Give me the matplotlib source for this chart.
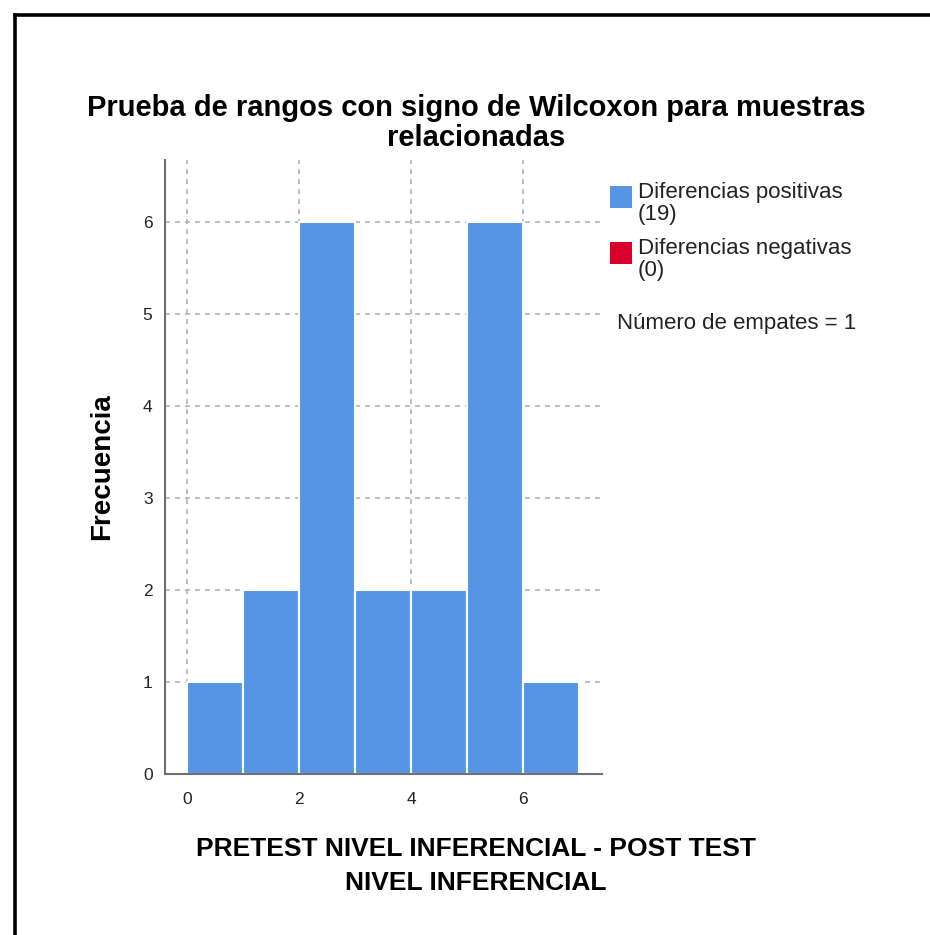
import matplotlib.pyplot as plt
from matplotlib.lines import Line2D
from matplotlib.patches import Rectangle

plt.rcParams['font.family'] = ['Liberation Sans', 'DejaVu Sans']

# rank differences, one bin per unit
bin_edges = [0, 1, 2, 3, 4, 5, 6, 7]
counts = [1, 2, 6, 2, 2, 6, 1]
n_positive = 19
n_negative = 0
n_ties = 1

blue = '#5595e3'
red = '#d8002b'
W, H = 930, 935

fig = plt.figure(figsize=(W / 100, H / 100), dpi=100)
ax = fig.add_axes([165 / W, 1 - 774 / H, (602 - 165) / W, (774 - 160) / H])

lefts = bin_edges[:-1]
widths = [b - a for a, b in zip(bin_edges[:-1], bin_edges[1:])]
ax.bar(lefts, counts, width=widths, align='edge', color=blue,
       edgecolor='white', linewidth=1.5, zorder=2)

ax.set_xlim(-0.39, 7.41)
ax.set_ylim(0, 6.67)
ax.set_xticks([0, 2, 4, 6])
ax.set_yticks(range(0, 7))
ax.set_axisbelow(True)
ax.grid(True, color='#b4b4b4', linestyle=(0, (3, 3)), linewidth=1.2)
for s in ['top', 'right']:
    ax.spines[s].set_visible(False)
for s in ['left', 'bottom']:
    ax.spines[s].set_color('#707070')
    ax.spines[s].set_linewidth(1.5)
    ax.spines[s].set_zorder(3)
ax.tick_params(length=0, labelsize=12.5, colors='#222222')
ax.tick_params(axis='x', pad=13)
ax.tick_params(axis='y', pad=9)

ax.set_ylabel('Frecuencia', fontsize=20, fontweight='bold', labelpad=20)
fig.text(476 / W, 1 - 123 / H,
         'Prueba de rangos con signo de Wilcoxon para muestras\nrelacionadas',
         ha='center', va='center', fontsize=21, fontweight='bold',
         linespacing=1.05)
fig.text(476 / W, 1 - 866 / H,
         'PRETEST NIVEL INFERENCIAL - POST TEST\nNIVEL INFERENCIAL',
         ha='center', va='center', fontsize=19, fontweight='bold',
         linespacing=1.55)

# legend: colour box next to a two-line label
legend_items = [(blue, f'Diferencias positivas\n({n_positive})', 186),
                (red, f'Diferencias negativas\n({n_negative})', 242)]
for color, text, top in legend_items:
    fig.add_artist(Rectangle((610 / W, 1 - (top + 22) / H), 22 / W, 22 / H,
                             transform=fig.transFigure, facecolor=color,
                             edgecolor='none'))
    fig.text(638 / W, 1 - (top - 4) / H, text, ha='left', va='top',
             fontsize=16, color='#222222', linespacing=1.05)
fig.text(617 / W, 1 - 323 / H, f'Número de empates = {n_ties}',
         ha='left', va='center', fontsize=16, color='#222222')

# outer frame
fig.add_artist(Line2D([14.5 / W, 1], [1 - 14.5 / H, 1 - 14.5 / H],
                      transform=fig.transFigure, color='black', linewidth=2.6))
fig.add_artist(Line2D([14.5 / W, 14.5 / W], [0, 1 - 14.5 / H],
                      transform=fig.transFigure, color='black', linewidth=2.6))

fig.savefig('out.png', dpi=100)
